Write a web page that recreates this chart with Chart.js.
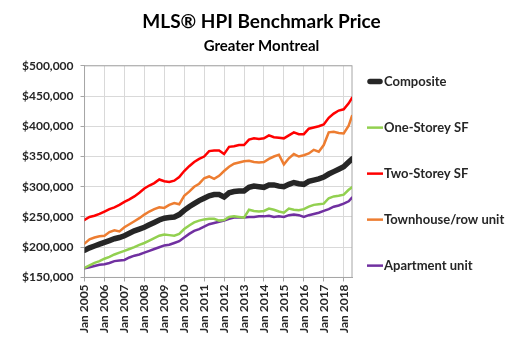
<!DOCTYPE html>
<html>
<head>
<meta charset="utf-8">
<script src="https://cdn.jsdelivr.net/npm/chart.js@4/dist/chart.umd.min.js"></script>
<style>
  body { margin: 0; background: #fff; }
  #wrap { width: 512px; height: 350px; }
</style>
</head>
<body>
<div id="wrap"><canvas id="hpiChart" width="512" height="350"></canvas></div>
<script>
// month index since Jan 2005 (quarterly readings + last month)
const months = [0, 3, 6, 9, 12, 15, 18, 21, 24, 27, 30, 33, 36, 39, 42, 45,
    48, 51, 54, 57, 60, 63, 66, 69, 72, 75, 78, 81, 84, 87, 90, 93,
    96, 99, 102, 105, 108, 111, 114, 117, 120, 123, 126, 129, 132, 135, 138, 141,
    144, 147, 150, 153, 156, 159, 161];

// benchmark prices, thousands of dollars
const composite = [195, 199, 202, 205, 208, 211, 214, 216, 219, 223, 227, 230, 233, 237, 241, 245,
    248, 249, 250, 254, 261, 267, 272, 277, 281, 285, 287, 287, 283, 290, 292, 293,
    293, 299, 301, 300, 299, 303, 303, 301, 300, 304, 307, 305, 304, 309, 311, 313,
    316, 321, 325, 329, 333, 341, 346];
const oneStorey = [166, 170, 174, 177, 181, 184, 188, 191, 194, 197, 200, 204, 207, 211, 215, 219,
    221, 220, 219, 222, 230, 236, 241, 244, 246, 247, 247, 244, 245, 250, 251, 250,
    249, 262, 260, 259, 260, 264, 262, 259, 257, 264, 262, 261, 263, 267, 270, 271,
    272, 281, 284, 285, 287, 295, 299];
const twoStorey = [245, 250, 252, 255, 259, 263, 266, 270, 275, 279, 284, 290, 297, 302, 306, 312,
    309, 308, 310, 316, 326, 334, 341, 346, 350, 359, 360, 360, 354, 366, 367, 369,
    369, 378, 380, 379, 380, 385, 382, 381, 380, 385, 390, 387, 387, 396, 398, 400,
    403, 414, 421, 426, 428, 438, 447];
const townhouse = [206, 213, 216, 218, 219, 225, 228, 226, 233, 238, 243, 248, 254, 259, 263, 266,
    265, 270, 273, 271, 285, 292, 300, 305, 314, 317, 313, 318, 326, 333, 338, 340,
    342, 343, 341, 340, 341, 346, 350, 353, 337, 347, 354, 350, 352, 355, 361, 358,
    369, 390, 391, 389, 388, 401, 417];
const apartment = [165, 167, 169, 171, 172, 174, 177, 178, 179, 183, 186, 188, 191, 194, 197, 200,
    203, 204, 207, 210, 216, 222, 227, 230, 234, 238, 240, 242, 244, 247, 249, 249,
    249, 250, 250, 251, 251, 252, 250, 251, 250, 253, 254, 253, 250, 253, 255, 257,
    260, 263, 267, 269, 272, 276, 282];

const seriesNames = ['Composite', 'One-Storey SF', 'Two-Storey SF', 'Townhouse/row unit', 'Apartment unit'];
const startYear = 2005;

function toPoints(values) {
    return values.map((v, i) => ({ x: months[i], y: v * 1000 }));
}

// grey frame round the plot area
const plotFrame = {
    id: 'plotFrame',
    beforeDatasetsDraw(chart) {
        const a = chart.chartArea;
        const ctx = chart.ctx;
        ctx.save();
        ctx.strokeStyle = '#a6a6a6';
        ctx.lineWidth = 1;
        ctx.strokeRect(a.left, a.top, a.right - a.left, a.bottom - a.top);
        ctx.restore();
    }
};

// legend to the right of the plot, spread out like the original
const sideLegend = {
    id: 'sideLegend',
    afterDraw(chart) {
        const a = chart.chartArea;
        const ctx = chart.ctx;
        const sets = chart.data.datasets;
        const gap = 46;
        const mid = (a.top + a.bottom) / 2 + 2;
        const x0 = a.right + 15;
        ctx.save();
        ctx.font = 'bold 13px Lato, "Open Sans", sans-serif';
        ctx.fillStyle = '#262626';
        ctx.textBaseline = 'middle';
        sets.forEach((ds, i) => {
            const y = mid + (i - (sets.length - 1) / 2) * gap;
            ctx.strokeStyle = ds.borderColor;
            ctx.lineWidth = ds.borderWidth;
            ctx.lineCap = i === 0 ? 'round' : 'butt';
            ctx.beginPath();
            ctx.moveTo(x0 + (i === 0 ? 3 : 0), y);
            ctx.lineTo(x0 + 16 - (i === 0 ? 3 : 0), y);
            ctx.stroke();
            ctx.fillText(ds.label, x0 + 17, y);
        });
        ctx.restore();
    }
};

Chart.defaults.font.family = 'Lato, "Open Sans", sans-serif';
Chart.defaults.color = '#262626';

const ctx = document.getElementById('hpiChart').getContext('2d');
new Chart(ctx, {
    type: 'line',
    data: {
        datasets: [
            { label: seriesNames[0], data: toPoints(composite), borderColor: '#262626', backgroundColor: '#262626', borderWidth: 5.5 },
            { label: seriesNames[1], data: toPoints(oneStorey), borderColor: '#92d050', backgroundColor: '#92d050', borderWidth: 2.5 },
            { label: seriesNames[2], data: toPoints(twoStorey), borderColor: '#ff0000', backgroundColor: '#ff0000', borderWidth: 2.5 },
            { label: seriesNames[3], data: toPoints(townhouse), borderColor: '#ed7d31', backgroundColor: '#ed7d31', borderWidth: 2.5 },
            { label: seriesNames[4], data: toPoints(apartment), borderColor: '#7030a0', backgroundColor: '#7030a0', borderWidth: 2.5 }
        ]
    },
    options: {
        responsive: false,
        animation: false,
        elements: { point: { radius: 0 }, line: { tension: 0, borderCapStyle: 'round' } },
        layout: { padding: { left: 15, right: 4, bottom: 14 } },
        scales: {
            x: {
                type: 'linear',
                min: 0,
                max: 161,
                afterBuildTicks: axis => {
                    axis.ticks = axis.ticks.filter(t => t.value % 12 === 0);
                },
                ticks: {
                    stepSize: 12,
                    includeBounds: false,
                    autoSkip: false,
                    maxRotation: 90,
                    minRotation: 90,
                    font: { size: 12, weight: 'bold' },
                    callback: v => 'Jan ' + (startYear + v / 12)
                },
                grid: { color: '#d9d9d9', tickColor: '#a6a6a6', tickLength: 4 },
                border: { color: '#a6a6a6' }
            },
            y: {
                min: 150000,
                max: 500000,
                ticks: {
                    stepSize: 50000,
                    autoSkip: false,
                    padding: 7,
                    font: { size: 12, weight: 'bold' },
                    callback: v => '$' + v.toLocaleString('en-US')
                },
                grid: { color: '#d9d9d9', tickColor: '#a6a6a6', tickLength: 4 },
                border: { color: '#a6a6a6' }
            },
            // empty right axis, only keeps room for the legend
            legendRoom: {
                position: 'right',
                display: true,
                grid: { display: false },
                ticks: { display: false },
                border: { display: false },
                afterFit: axis => { axis.width = 156; }
            }
        },
        plugins: {
            title: {
                display: true,
                text: 'MLS\u00ae HPI Benchmark Price',
                color: '#000',
                font: { size: 19, weight: 'bold' },
                padding: { top: 10, bottom: 4 }
            },
            subtitle: {
                display: true,
                text: 'Greater Montreal',
                color: '#000',
                font: { size: 15, weight: 'bold' },
                padding: { bottom: 11 }
            },
            legend: { display: false },
            tooltip: { enabled: false }
        }
    },
    plugins: [plotFrame, sideLegend]
});
</script>
</body>
</html>
